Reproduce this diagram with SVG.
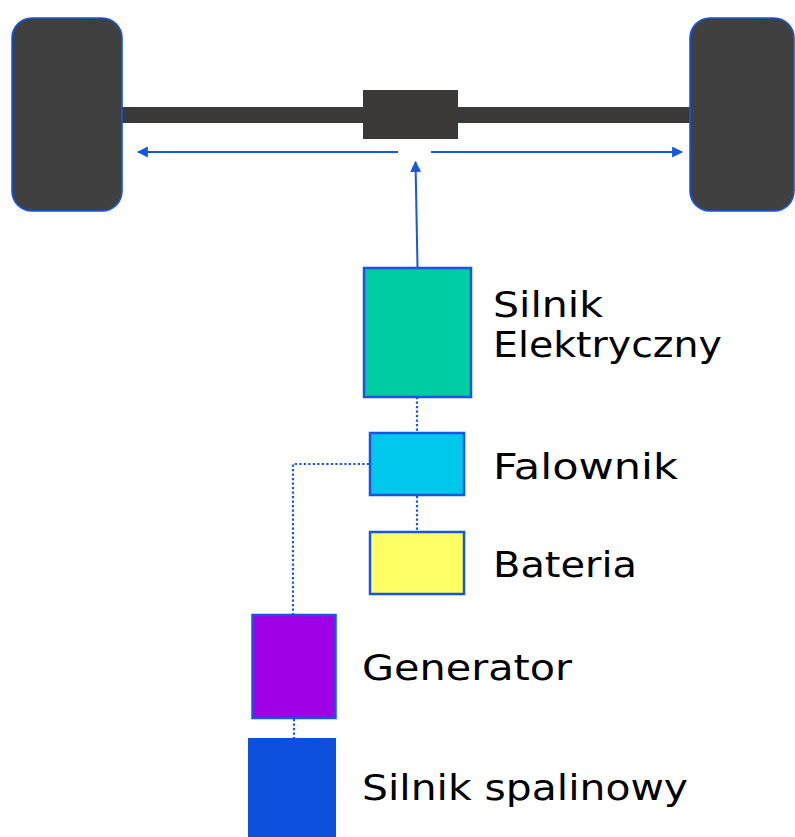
<svg xmlns="http://www.w3.org/2000/svg" width="795" height="837" viewBox="0 0 795 837">
<defs>
<style>
.wheel{fill:#404040;stroke:#1656e0;stroke-width:1.6}
.dark{fill:#3b3937}
.box{stroke:#1656e0;stroke-width:2.5}
.arr{stroke:#1656e0;stroke-width:2;fill:none}
.dot{stroke:#1656e0;stroke-width:2.2;fill:none;stroke-dasharray:2.2 2.3}
.lbl{font-family:"DejaVu Sans",sans-serif;font-size:35px;fill:#000}
</style>
<marker id="ah2" viewBox="0 0 10 10" refX="9" refY="5" markerWidth="11" markerHeight="11" orient="auto" markerUnits="userSpaceOnUse">
<path d="M0,0 L10,5 L0,10 z" fill="#1656e0"/>
</marker>
</defs>
<rect width="795" height="837" fill="#fff"/>
<g id="axle">
<rect class="dark" x="120" y="107" width="572" height="16"/>
<rect class="dark" x="363" y="90" width="95" height="49"/>
</g>
<g id="wheel-left"><rect class="wheel" x="12" y="18" width="110" height="193" rx="20"/></g>
<g id="wheel-right"><rect class="wheel" x="690" y="18" width="104" height="193" rx="20"/></g>
<g id="connectors">
<line class="arr" x1="398" y1="152" x2="138" y2="152" marker-end="url(#ah2)"/>
<line class="arr" x1="431" y1="152" x2="682" y2="152" marker-end="url(#ah2)"/>
<line class="arr" x1="417.5" y1="267" x2="415.5" y2="162" marker-end="url(#ah2)"/>
<line class="dot" x1="417" y1="397" x2="417" y2="432"/>
<line class="dot" x1="417" y1="496" x2="417" y2="531"/>
<polyline class="dot" points="369,464 293,464 293,614"/>
<line class="dot" x1="294" y1="719" x2="294" y2="738"/>
</g>
<g id="silnik-elektryczny">
<rect class="box" x="364" y="268" width="107" height="129" fill="#00cca3"/>
<text class="lbl" x="493" y="317" textLength="110" lengthAdjust="spacingAndGlyphs">Silnik</text>
<text class="lbl" x="493" y="357" textLength="229" lengthAdjust="spacingAndGlyphs">Elektryczny</text>
</g>
<g id="falownik">
<rect class="box" x="370" y="433" width="94" height="62" fill="#00c8ec"/>
<text class="lbl" x="493" y="479" textLength="185" lengthAdjust="spacingAndGlyphs">Falownik</text>
</g>
<g id="bateria">
<rect class="box" x="370" y="532" width="94" height="62" fill="#ffff66"/>
<text class="lbl" x="493" y="577" textLength="144" lengthAdjust="spacingAndGlyphs">Bateria</text>
</g>
<g id="generator">
<rect class="box" x="252.5" y="615" width="83" height="103" fill="#a000e6"/>
<text class="lbl" x="362" y="680" textLength="210" lengthAdjust="spacingAndGlyphs">Generator</text>
</g>
<g id="silnik-spalinowy">
<rect x="248" y="738" width="88" height="100" fill="#0d50dd"/>
<text class="lbl" x="362" y="800" textLength="326" lengthAdjust="spacingAndGlyphs">Silnik spalinowy</text>
</g>
</svg>
